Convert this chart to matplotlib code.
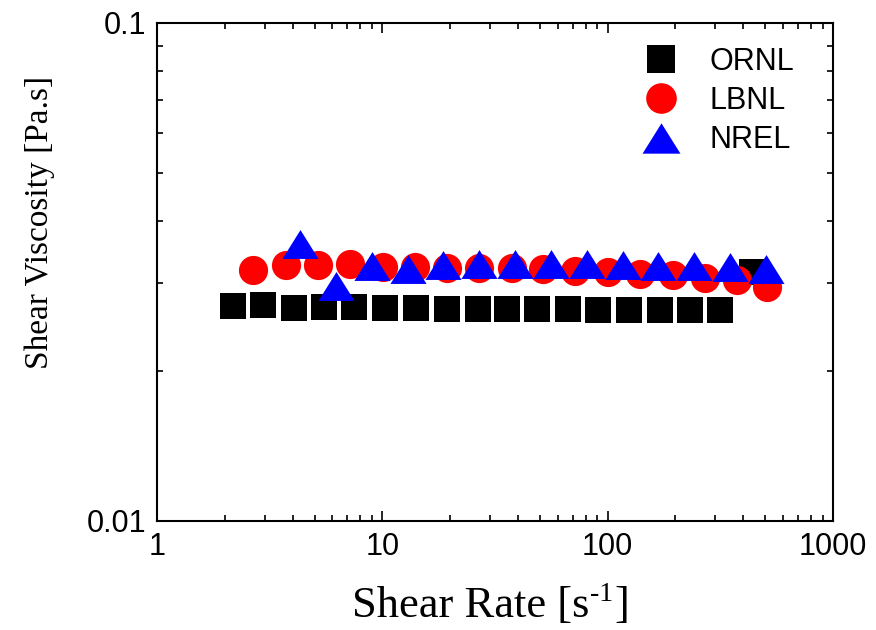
import matplotlib
matplotlib.use("Agg")
import matplotlib.pyplot as plt
from matplotlib.ticker import LogLocator, NullFormatter, FixedLocator, FixedFormatter

# data
ornl_rate = [2.17, 2.95, 4.06, 5.51, 7.49, 10.3, 14.1, 19.4, 26.6, 35.8, 48.6,
             66.7, 90.6, 124, 171, 232, 315, 437]
ornl_visc = [0.0270, 0.0272, 0.0268, 0.0269, 0.0269, 0.0268, 0.0268, 0.0267,
             0.0267, 0.0266, 0.0266, 0.0266, 0.0265, 0.0265, 0.0265, 0.0265,
             0.0265, 0.0316]

lbnl_rate = [2.67, 3.74, 5.18, 7.19, 10.1, 14.0, 19.4, 26.9, 37.6, 51.7, 71.7,
             100, 139, 195, 271, 375, 510]
lbnl_visc = [0.0319, 0.0327, 0.0326, 0.0328, 0.0323, 0.0323, 0.0322, 0.0322,
             0.0322, 0.0320, 0.0318, 0.0316, 0.0314, 0.0312, 0.0308, 0.0305,
             0.0295]

nrel_rate = [4.31, 6.23, 9.0, 13.0, 18.6, 26.9, 38.8, 56.1, 81.0, 117, 167,
             242, 349, 505]
nrel_visc = [0.0360, 0.0297, 0.0325, 0.0321, 0.0327, 0.0328, 0.0328, 0.0328,
             0.0328, 0.0327, 0.0325, 0.0325, 0.0323, 0.0321]

x_ticks = [1, 10, 100, 1000]
x_tick_labels = ["1", "10", "100", "1000"]
y_ticks = [0.01, 0.1]
y_tick_labels = ["0.01", "0.1"]

plt.rcParams["font.family"] = ["Liberation Sans", "DejaVu Sans"]

fig = plt.figure(figsize=(8.76, 6.30), dpi=100)
ax = fig.add_axes([157 / 876, 1 - 521 / 630, 676 / 876, 498 / 630])

wide_triangle = [(0, 1), (-1.25, -1), (1.25, -1), (0, 1)]

ax.plot(ornl_rate, ornl_visc, linestyle="none", marker="s", ms=19,
        color="black", mew=0, label="ORNL", zorder=3)
ax.plot(lbnl_rate, lbnl_visc, linestyle="none", marker="o", ms=21,
        color="red", mew=0, label="LBNL", zorder=4)
ax.plot(nrel_rate, nrel_visc, linestyle="none", marker=wide_triangle, ms=26,
        color="blue", mew=0, label="NREL", zorder=5)

ax.set_xscale("log")
ax.set_yscale("log")
ax.set_xlim(1, 1000)
ax.set_ylim(0.01, 0.1)

ax.xaxis.set_major_locator(FixedLocator(x_ticks))
ax.xaxis.set_major_formatter(FixedFormatter(x_tick_labels))
ax.xaxis.set_minor_locator(LogLocator(base=10, subs=range(2, 10)))
ax.xaxis.set_minor_formatter(NullFormatter())
ax.yaxis.set_major_locator(FixedLocator(y_ticks))
ax.yaxis.set_major_formatter(FixedFormatter(y_tick_labels))
ax.yaxis.set_minor_locator(LogLocator(base=10, subs=range(2, 10)))
ax.yaxis.set_minor_formatter(NullFormatter())

ax.tick_params(which="both", direction="in", top=True, right=True,
               labelsize=22, pad=8, width=1.2)
ax.tick_params(which="major", length=7)
ax.tick_params(which="minor", length=4.5)
for spine in ax.spines.values():
    spine.set_linewidth(1.5)

# x label built from pieces so the superscript keeps a short hyphen
base_y = 1 - 617 / 630
xl = fig.text(352 / 876, base_y, "Shear Rate [s", fontsize=32,
              family="Liberation Serif", ha="left", va="baseline")
fig.canvas.draw()
bb = xl.get_window_extent()
sup = fig.text(bb.x1 / 876 + 0.001, 1 - 601 / 630, "-1", fontsize=20,
               family="Liberation Serif", ha="left", va="baseline")
fig.canvas.draw()
sb = sup.get_window_extent()
fig.text(sb.x1 / 876 + 0.001, base_y, "]", fontsize=32,
         family="Liberation Serif", ha="left", va="baseline")

fig.text(40 / 876, 1 - 222 / 630, "Shear Viscosity [Pa.s]", rotation=90,
         fontsize=24, family="Liberation Serif", ha="center", va="center")

ax.legend(loc="upper right", bbox_to_anchor=(0.975, 0.995), frameon=False,
          fontsize=22, handlelength=1.2, handletextpad=1.0,
          labelspacing=0.3, borderaxespad=0.3, markerscale=1.05)

fig.savefig("out.png", dpi=100)
